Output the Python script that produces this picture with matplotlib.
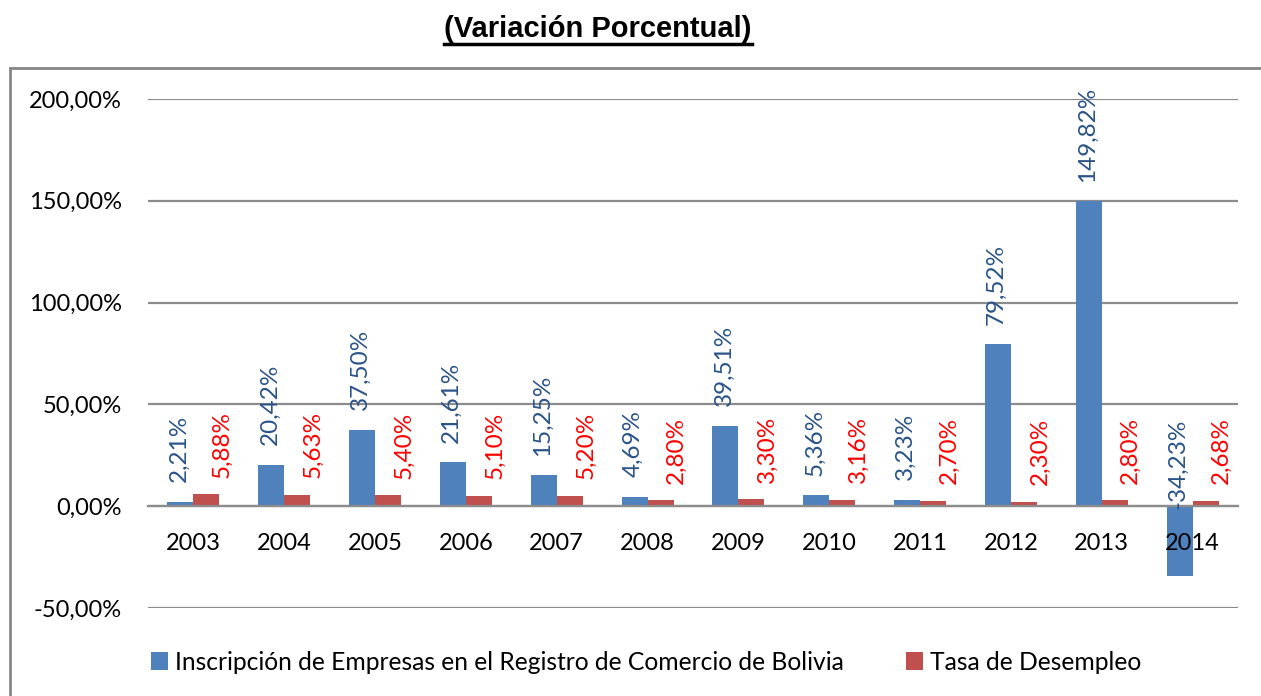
import matplotlib
matplotlib.use("Agg")
import matplotlib.pyplot as plt
import matplotlib.patches as mpatches
from matplotlib.lines import Line2D
import numpy as np

# data
years = ["2003", "2004", "2005", "2006", "2007", "2008",
         "2009", "2010", "2011", "2012", "2013", "2014"]
inscripcion = [2.21, 20.42, 37.50, 21.61, 15.25, 4.69,
               39.51, 5.36, 3.23, 79.52, 149.82, -34.23]
desempleo = [5.88, 5.63, 5.40, 5.10, 5.20, 2.80,
             3.30, 3.16, 2.70, 2.30, 2.80, 2.68]
yticks = [-50, 0, 50, 100, 150, 200]

series_names = ["Inscripción de Empresas en el Registro de Comercio de Bolivia",
                "Tasa de Desempleo"]

BLUE = "#4F81BD"
RED = "#C0504D"
BLUE_TXT = "#2A5388"
RED_TXT = "#FF0000"
GRID = "#8C8C8C"

plt.rcParams["font.family"] = ["Lato", "DejaVu Sans"]

W, H = 1261, 696
fig = plt.figure(figsize=(W / 100, H / 100), dpi=100)
ax = fig.add_axes([148 / W, 1 - 608 / H, (1238 - 148) / W, (608 - 99) / H])

x = np.arange(len(years))
bw = 0.286
ax.bar(x - bw / 2, inscripcion, bw, color=BLUE, label=series_names[0], zorder=2)
ax.bar(x + bw / 2, desempleo, bw, color=RED, label=series_names[1], zorder=2)


def fmt(v):
    return f"{v:.2f}".replace(".", ",") + "%"


for xi, v in zip(x, inscripcion):
    off = 14 if v >= 0 else -2
    ax.annotate(fmt(v), (xi - bw / 2, max(v, 0)), xytext=(-1, off),
                textcoords="offset points", rotation=90, ha="center", va="bottom",
                color=BLUE_TXT, fontsize=17.5, zorder=4)
for xi, v in zip(x, desempleo):
    ax.annotate(fmt(v), (xi + bw / 2, v), xytext=(11.5, 12),
                textcoords="offset points", rotation=90, ha="center", va="bottom",
                color=RED_TXT, fontsize=17.5, zorder=4)

ax.set_xlim(-0.5, len(years) - 0.5)
ax.set_ylim(-50, 200)
ax.set_yticks(yticks)
ax.set_yticklabels([f"{t:.2f}".replace(".", ",") + "%" for t in yticks])
ax.set_xticks(x)
ax.set_xticklabels(years)
ax.tick_params(axis="both", length=0, labelsize=17, colors="black")
ax.tick_params(axis="y", pad=19)
ax.tick_params(axis="x", pad=19)
ax.yaxis.grid(True, color=GRID, linewidth=1.6, zorder=0)
ax.set_axisbelow(True)
ax.xaxis.set_zorder(5)
for s in ["top", "right", "left"]:
    ax.spines[s].set_visible(False)
ax.spines["bottom"].set_position(("data", 0))
ax.spines["bottom"].set_color(GRID)
ax.spines["bottom"].set_linewidth(1.6)
ax.spines["bottom"].set_zorder(3)

leg = ax.legend(loc="center", bbox_to_anchor=(646 / W, 1 - 662 / H),
                bbox_transform=fig.transFigure, ncol=2, frameon=False,
                fontsize=17.7, handlelength=0.7, handleheight=0.7,
                handletextpad=0.3, columnspacing=2.5)

# title with underline
title = fig.text(598 / W, 1 - 29 / H, "(Variación Porcentual)", ha="center", va="center",
                 fontsize=21, fontweight="bold", family="Liberation Sans")
fig.canvas.draw()
bb = title.get_window_extent(fig.canvas.get_renderer())
uy = bb.y0 - 1
fig.add_artist(Line2D([bb.x0 / W, bb.x1 / W], [uy / H, uy / H],
                      transform=fig.transFigure, color="black", linewidth=2.5))

# chart border box (runs off the right and bottom edges)
fig.add_artist(mpatches.Rectangle((10 / W, -0.1), 2, 1 - 68 / H + 0.1,
                                  transform=fig.transFigure, fill=False,
                                  edgecolor="#868686", linewidth=2))

fig.savefig("out.png", dpi=100)
